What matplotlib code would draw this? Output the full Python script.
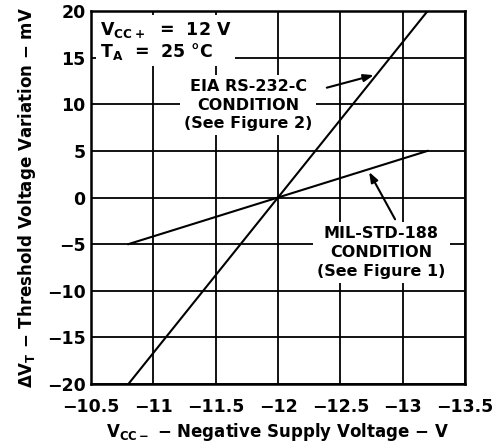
import matplotlib
matplotlib.use("Agg")
from matplotlib import pyplot as plt

# lines (Vcc- in V, delta VT in mV)
vcc_eia = [-10.8, -13.2]
dvt_eia = [-20, 20]
vcc_mil = [-10.8, -13.2]
dvt_mil = [-5, 5]

x_ticks = [-10.5, -11, -11.5, -12, -12.5, -13, -13.5]
x_labels = ["\u221210.5", "\u221211", "\u221211.5", "\u221212", "\u221212.5", "\u221213", "\u221213.5"]
y_ticks = [20, 15, 10, 5, 0, -5, -10, -15, -20]
y_labels = ["20", "15", "10", "5", "0", "\u22125", "\u221210", "\u221215", "\u221220"]

plt.rcParams["font.family"] = ["DejaVu Sans"]
plt.rcParams["font.weight"] = "bold"
plt.rcParams["mathtext.fontset"] = "custom"
plt.rcParams["mathtext.bf"] = "DejaVu Sans:bold"
plt.rcParams["mathtext.rm"] = "DejaVu Sans:bold"
plt.rcParams["mathtext.default"] = "bf"

fig = plt.figure(figsize=(4.93, 4.48), dpi=100)
ax = fig.add_axes([0.1846, 0.1429, 0.7586, 0.8325])

ax.set_xlim(-10.5, -13.5)
ax.set_ylim(-20, 20)
ax.set_xticks(x_ticks)
ax.set_xticklabels(x_labels, fontsize=12.5, fontweight="bold")
ax.set_yticks(y_ticks)
ax.set_yticklabels(y_labels, fontsize=12.5, fontweight="bold")
ax.tick_params(axis="y", length=0, pad=4)
ax.tick_params(axis="x", length=0, pad=10)
ax.grid(True, color="black", linewidth=1.3, zorder=0)
ax.set_axisbelow(True)
for s in ax.spines.values():
    s.set_linewidth(1.8)

ax.plot(vcc_eia, dvt_eia, color="black", linewidth=1.5, zorder=3)
ax.plot(vcc_mil, dvt_mil, color="black", linewidth=1.5, zorder=3)

# conditions block, top left
ax.text(-10.57, 16.8, "V$_{CC+}$  =  12 V\nT$_{A}$  =  25 \u00b0C", fontsize=12.5,
        fontweight="bold", va="center", ha="left", linespacing=1.1,
        bbox=dict(facecolor="white", edgecolor="none", pad=3), zorder=2)

ax.text(-11.76, 9.9, "EIA RS-232-C\nCONDITION\n(See Figure 2)", fontsize=11.5,
        fontweight="bold", ha="center", va="center", linespacing=1.3,
        bbox=dict(facecolor="white", edgecolor="none", pad=3), zorder=2)
ax.annotate("", xy=(-12.79, 13.2), xytext=(-12.37, 11.7),
            arrowprops=dict(arrowstyle="-|>,head_length=0.6,head_width=0.22",
                            color="black", lw=1.5), zorder=4)

ax.text(-12.83, -5.9, "MIL-STD-188\nCONDITION\n(See Figure 1)", fontsize=11.5,
        fontweight="bold", ha="center", va="center", linespacing=1.3,
        bbox=dict(facecolor="white", edgecolor="none", pad=3), zorder=2)
ax.annotate("", xy=(-12.72, 3.0), xytext=(-12.95, -2.6),
            arrowprops=dict(arrowstyle="-|>,head_length=0.6,head_width=0.22",
                            color="black", lw=1.5), zorder=4)

ax.set_xlabel("V$_{CC-}$ \u2212 Negative Supply Voltage \u2212 V", fontsize=12,
              fontweight="bold", labelpad=4)
ax.set_ylabel("\u0394V$_{T}$ \u2212 Threshold Voltage Variation \u2212 mV", fontsize=12,
              fontweight="bold", labelpad=6)

fig.savefig("out.png", dpi=100)
